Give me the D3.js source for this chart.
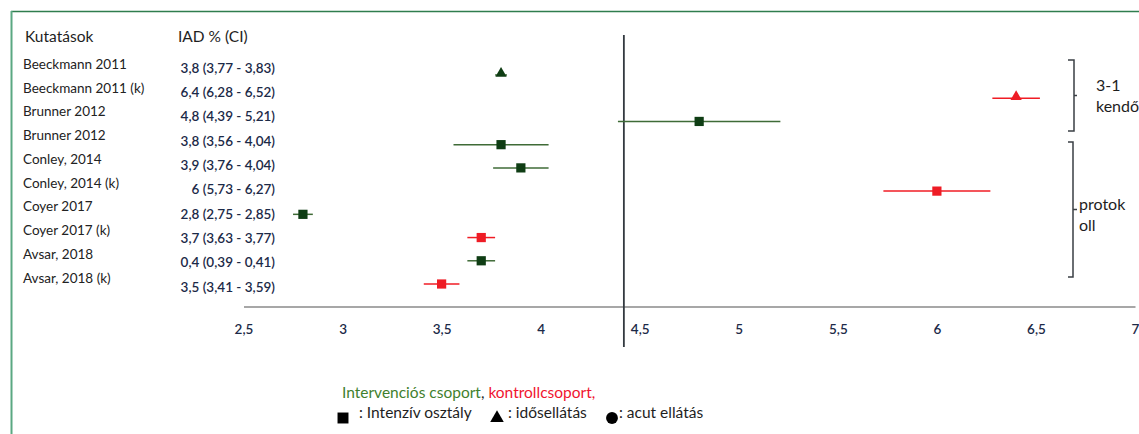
<!DOCTYPE html>
<html>
<head>
<meta charset="utf-8">
<script src="https://cdn.jsdelivr.net/npm/d3@7"></script>
<style>
  html, body { margin: 0; padding: 0; background: #fff; }
  svg { display: block; font-family: Lato, "Open Sans", sans-serif; }
</style>
</head>
<body>
<svg id="chart" width="1139" height="434"></svg>
<script>
// Studies, one row each (top to bottom)
const studies = [
  "Beeckmann 2011", "Beeckmann 2011 (k)", "Brunner 2012", "Brunner 2012",
  "Conley, 2014", "Conley, 2014 (k)", "Coyer 2017", "Coyer 2017 (k)",
  "Avsar, 2018", "Avsar, 2018 (k)"
];
// Point estimate and confidence interval used for the plotted marks
const estimate = [3.8, 6.4, 4.8, 3.8, 3.9, 6.0, 2.8, 3.7, 3.7, 3.5];
const ciLow    = [3.77, 6.28, 4.39, 3.56, 3.76, 5.73, 2.75, 3.63, 3.63, 3.41];
const ciHigh   = [3.83, 6.52, 5.21, 4.04, 4.04, 6.27, 2.85, 3.77, 3.77, 3.59];
// Text of the IAD % (CI) column
const ciText = [
  "3,8 (3,77 - 3,83)", "6,4 (6,28 - 6,52)", "4,8 (4,39 - 5,21)", "3,8 (3,56 - 4,04)",
  "3,9 (3,76 - 4,04)", "6 (5,73 - 6,27)", "2,8 (2,75 - 2,85)", "3,7 (3,63 - 3,77)",
  "0,4 (0,39 - 0,41)", "3,5 (3,41 - 3,59)"
];
// Group: "i" = intervenciós, "k" = kontroll
const group   = ["i", "k", "i", "i", "i", "k", "i", "k", "i", "k"];
// Setting: "icu" = intenzív osztály, "elder" = idősellátás
const setting = ["elder", "elder", "icu", "icu", "icu", "icu", "icu", "icu", "icu", "icu"];
// Axis ticks and vertical reference line
const tickValues = [2.5, 3, 3.5, 4, 4.5, 5, 5.5, 6, 6.5, 7];
const tickLabels = ["2,5", "3", "3,5", "4", "4,5", "5", "5,5", "6", "6,5", "7"];
const referenceValue = 4.42;

const markFill = { i: "#0f3d14", k: "#ee1c25" };
const lineCol  = { i: "#3f6b37", k: "#f01c24" };

const svg = d3.select("#chart");
const idx = d3.range(studies.length);

const x = d3.scaleLinear().domain([2.5, 7]).range([243.5, 1135]);
const yMark = d3.scalePoint().domain(idx).range([75, 284]);
const yName = d3.scalePoint().domain(idx).range([64, 278]);
const yCi   = d3.scalePoint().domain(idx).range([68, 287]);

// Frame (top and left edges)
svg.append("line").attr("x1", 11).attr("x2", 1139).attr("y1", 11.5).attr("y2", 11.5)
  .attr("stroke", "#2f7d4e").attr("stroke-width", 1.5);
svg.append("line").attr("x1", 11.5).attr("x2", 11.5).attr("y1", 11).attr("y2", 434)
  .attr("stroke", "#5aa882").attr("stroke-width", 2);

// Column headers
svg.append("text").attr("x", 25).attr("y", 37).attr("dy", "0.35em").text("Kutatások")
  .attr("font-size", 15.5).attr("fill", "#1e1e1e");
svg.append("text").attr("x", 178).attr("y", 37).attr("dy", "0.35em").text("IAD % (CI)")
  .attr("font-size", 15.5).attr("fill", "#1e1e1e");

// Study names
svg.append("g").selectAll("text").data(idx).join("text")
  .attr("x", 23).attr("y", i => yName(i)).attr("dy", "0.35em")
  .attr("font-size", 13.5).attr("fill", "#222")
  .text(i => studies[i]);

// Estimate (CI) text
svg.append("g").selectAll("text").data(idx).join("text")
  .attr("x", 275).attr("y", i => yCi(i)).attr("dy", "0.35em")
  .attr("text-anchor", "end")
  .attr("font-size", 13.5).attr("font-weight", 600).attr("fill", "#1c2a48")
  .text(i => ciText[i]);

// X axis
const axis = d3.axisBottom(x).tickValues(tickValues)
  .tickFormat((d, i) => tickLabels[i]).tickSize(0).tickPadding(18);
const gx = svg.append("g").attr("transform", "translate(0,306.5)").call(axis);
gx.select(".domain").attr("stroke", "#8a8a8a").attr("stroke-width", 1.5);
gx.selectAll("text").attr("font-family", "Lato, sans-serif").attr("font-size", 13.5)
  .attr("font-weight", 600).attr("fill", "#1c2a48");

// Vertical reference line
svg.append("line").attr("x1", x(referenceValue)).attr("x2", x(referenceValue))
  .attr("y1", 35).attr("y2", 347).attr("stroke", "#333a40").attr("stroke-width", 1.8);

// Confidence interval whiskers
svg.append("g").selectAll("line").data(idx).join("line")
  .attr("x1", i => x(ciLow[i])).attr("x2", i => x(ciHigh[i]))
  .attr("y1", i => yMark(i)).attr("y2", i => yMark(i))
  .attr("stroke", i => lineCol[group[i]]).attr("stroke-width", 1.5);

// Point estimates: square = intenzív osztály, triangle = idősellátás
const sq = d3.symbol().type(d3.symbolSquare).size(85);
const tri = d3.symbol().type(d3.symbolTriangle).size(55);
svg.append("g").selectAll("path").data(idx).join("path")
  .attr("transform", i => `translate(${x(estimate[i])},${yMark(i) - (setting[i] === "elder" ? 1.5 : 0)})`)
  .attr("d", i => setting[i] === "elder" ? tri() : sq())
  .attr("fill", i => markFill[group[i]]);

// Right-hand group brackets
function bracket(x0, y0, y1, tickLen, serif) {
  const ym = (y0 + y1) / 2;
  svg.append("path")
    .attr("d", `M${x0 - serif},${y0} H${x0} V${y1} H${x0 - serif} M${x0},${ym} h${tickLen}`)
    .attr("fill", "none").attr("stroke", "#3a3f44").attr("stroke-width", 1.5);
}
bracket(1074, 60, 131, 3, 6);
bracket(1073, 142, 277, 4, 5);

const groupLabel = [["3-1", "kendő"], ["protok", "oll"]];
const groupLabelPos = [[1096, 85], [1079, 204]];
groupLabel.forEach((lines, g) => {
  const t = svg.append("text").attr("font-size", 16).attr("fill", "#1e1e1e");
  lines.forEach((s, j) => {
    t.append("tspan").attr("x", groupLabelPos[g][0])
      .attr("y", groupLabelPos[g][1] + j * 21).attr("dy", "0.35em").text(s);
  });
});

// Legend
const leg = svg.append("text").attr("x", 342).attr("y", 393).attr("dy", "0.35em")
  .attr("font-size", 15.5);
leg.append("tspan").attr("fill", "#3f7f2e").text("Intervenciós csoport");
leg.append("tspan").attr("fill", "#1e1e1e").text(", ");
leg.append("tspan").attr("fill", "#f0142f").text("kontrollcsoport,");

const legendItems = [
  { sym: d3.symbolSquare, size: 120, cx: 343, tx: 359, label: ": Intenzív osztály" },
  { sym: d3.symbolTriangle, size: 80, cx: 497, tx: 508, label: ": idősellátás" },
  { sym: d3.symbolCircle, size: 110, cx: 612, tx: 619, label: ": acut ellátás" }
];
legendItems.forEach(d => {
  svg.append("path").attr("transform", `translate(${d.cx},418)`)
    .attr("d", d3.symbol().type(d.sym).size(d.size)()).attr("fill", "#000");
  svg.append("text").attr("x", d.tx).attr("y", 413).attr("dy", "0.35em")
    .attr("font-size", 15.5).attr("fill", "#1e1e1e").text(d.label);
});
</script>
</body>
</html>
